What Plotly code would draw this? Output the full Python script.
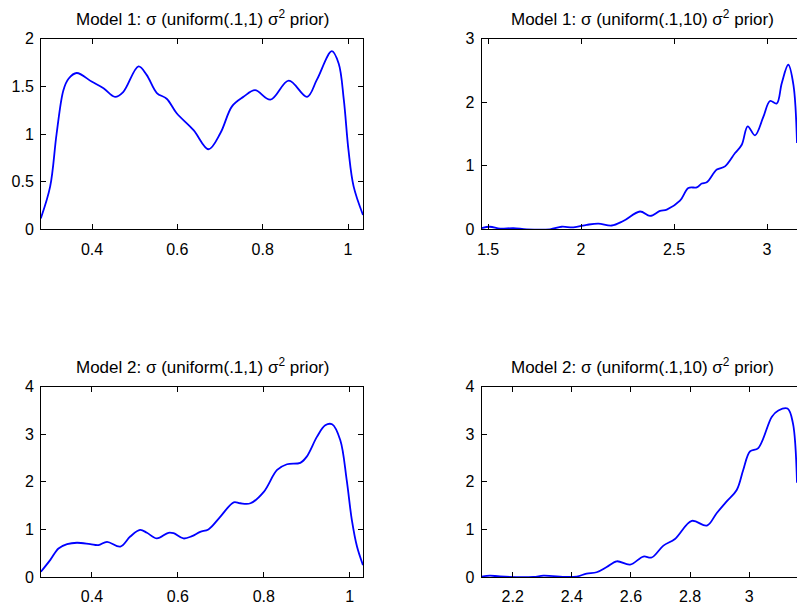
import plotly.graph_objects as go

# ---- Data ----
m1_s1_x = [0.280, 0.302, 0.317, 0.333, 0.345, 0.364, 0.399, 0.427, 0.454, 0.473, 0.509, 0.528,
           0.552, 0.575, 0.598, 0.638, 0.673, 0.701, 0.728, 0.755, 0.782, 0.818, 0.861, 0.904,
           0.927, 0.962, 0.978, 0.990, 1.001, 1.013, 1.035]
m1_s1_y = [0.115, 0.45, 1.00, 1.46, 1.58, 1.64, 1.55, 1.48, 1.39, 1.44, 1.71, 1.62,
           1.43, 1.37, 1.22, 1.04, 0.84, 1.01, 1.29, 1.39, 1.46, 1.36, 1.56, 1.39,
           1.57, 1.87, 1.74, 1.36, 0.83, 0.45, 0.15]

m1_s10_x = [1.466, 1.510, 1.565, 1.636, 1.708, 1.833, 1.896, 1.959, 2.031, 2.093, 2.165, 2.227,
            2.317, 2.371, 2.425, 2.461, 2.532, 2.577, 2.622, 2.649, 2.676, 2.730, 2.774, 2.828,
            2.864, 2.896, 2.935, 2.980, 3.016, 3.052, 3.079, 3.114, 3.142, 3.161]
m1_s10_y = [0.02, 0.04, 0.01, 0.02, 0.00, 0.00, 0.04, 0.03, 0.07, 0.09, 0.06, 0.13,
            0.28, 0.21, 0.29, 0.31, 0.45, 0.65, 0.66, 0.72, 0.74, 0.94, 0.99, 1.20,
            1.33, 1.62, 1.48, 1.77, 2.02, 1.98, 2.30, 2.59, 2.27, 1.36]

m2_s1_x = [0.281, 0.303, 0.322, 0.342, 0.365, 0.396, 0.415, 0.435, 0.466, 0.489, 0.512, 0.528,
           0.551, 0.578, 0.590, 0.613, 0.633, 0.652, 0.671, 0.699, 0.730, 0.745, 0.769, 0.800,
           0.831, 0.854, 0.885, 0.900, 0.924, 0.943, 0.959, 0.978, 0.993, 1.005, 1.017, 1.031]
m2_s1_y = [0.11, 0.36, 0.60, 0.69, 0.72, 0.69, 0.67, 0.74, 0.64, 0.85, 0.99, 0.93,
           0.81, 0.93, 0.92, 0.81, 0.86, 0.95, 1.00, 1.27, 1.57, 1.55, 1.55, 1.79,
           2.25, 2.37, 2.40, 2.53, 2.95, 3.19, 3.21, 2.88, 2.04, 1.20, 0.64, 0.25]

m2_s10_x = [2.095, 2.123, 2.157, 2.270, 2.304, 2.383, 2.417, 2.450, 2.484, 2.518, 2.552, 2.597,
            2.642, 2.670, 2.710, 2.749, 2.806, 2.857, 2.890, 2.924, 2.958, 2.980, 3.003, 3.031,
            3.077, 3.099, 3.130, 3.148, 3.162]
m2_s10_y = [0.01, 0.03, 0.01, 0.00, 0.03, 0.00, 0.01, 0.07, 0.10, 0.21, 0.33, 0.26,
            0.43, 0.41, 0.66, 0.80, 1.18, 1.08, 1.34, 1.59, 1.83, 2.25, 2.64, 2.71,
            3.37, 3.50, 3.54, 3.24, 1.98]

titles = ["Model 1: \u03c3 (uniform(.1,1) \u03c3<sup>2</sup> prior)",
          "Model 1: \u03c3 (uniform(.1,10) \u03c3<sup>2</sup> prior)",
          "Model 2: \u03c3 (uniform(.1,1) \u03c3<sup>2</sup> prior)",
          "Model 2: \u03c3 (uniform(.1,10) \u03c3<sup>2</sup> prior)"]

x_ranges = [[0.2805, 1.035], [1.466, 3.161], [0.2813, 1.031], [2.095, 3.162]]
y_ranges = [[0, 2], [0, 3], [0, 4], [0, 4]]
x_ticks = [[0.4, 0.6, 0.8, 1], [1.5, 2, 2.5, 3], [0.4, 0.6, 0.8, 1], [2.2, 2.4, 2.6, 2.8, 3]]
x_ticktext = [["0.4", "0.6", "0.8", "1"], ["1.5", "2", "2.5", "3"],
              ["0.4", "0.6", "0.8", "1"], ["2.2", "2.4", "2.6", "2.8", "3"]]
y_ticks = [[0, 0.5, 1, 1.5, 2], [0, 1, 2, 3], [0, 1, 2, 3, 4], [0, 1, 2, 3, 4]]
y_ticktext = [["0", "0.5", "1", "1.5", "2"], ["0", "1", "2", "3"],
              ["0", "1", "2", "3", "4"], ["0", "1", "2", "3", "4"]]

W, H = 797, 605
x_doms = [[41 / W, 363 / W], [481.7 / W, 1.0], [41 / W, 363 / W], [481.7 / W, 1.0]]
y_doms = [[(H - 229.3) / H, (H - 38.7) / H], [(H - 229.3) / H, (H - 38.7) / H],
          [(H - 577) / H, (H - 386.7) / H], [(H - 577) / H, (H - 386.7) / H]]

series = [(m1_s1_x, m1_s1_y), (m1_s10_x, m1_s10_y), (m2_s1_x, m2_s1_y), (m2_s10_x, m2_s10_y)]

fig = go.Figure()
font_fam = "Liberation Sans, Arial, Helvetica, sans-serif"
layout = dict(width=W, height=H, margin=dict(l=0, r=0, t=0, b=0, autoexpand=False),
              paper_bgcolor="white", plot_bgcolor="white", showlegend=False,
              font=dict(family=font_fam, size=15, color="black"))
annotations = []
for i, (xs, ys) in enumerate(series):
    n = "" if i == 0 else str(i + 1)
    fig.add_trace(go.Scatter(x=xs, y=ys, mode="lines",
                             line=dict(color="#0000ff", width=1.8, shape="spline", smoothing=1.0),
                             xaxis="x" + n, yaxis="y" + n, hoverinfo="skip"))
    right_side = i in (1, 3)
    layout["xaxis" + n] = dict(domain=x_doms[i], range=x_ranges[i], anchor="y" + n,
                               tickvals=x_ticks[i], ticktext=x_ticktext[i],
                               showline=True, linecolor="black", linewidth=1, mirror="ticks",
                               ticks="inside", ticklen=5, tickcolor="black", tickwidth=1,
                               showgrid=False, zeroline=False, fixedrange=True, automargin=False,
                               ticklabelstandoff=5, tickfont=dict(size=16))
    layout["yaxis" + n] = dict(domain=y_doms[i], range=y_ranges[i], anchor="x" + n,
                               tickvals=y_ticks[i], ticktext=y_ticktext[i],
                               showline=True, linecolor="black", linewidth=1,
                               mirror=False if right_side else "ticks",
                               ticks="inside", ticklen=5, tickcolor="black", tickwidth=1,
                               showgrid=False, zeroline=False, fixedrange=True, automargin=False,
                               ticklabelstandoff=3, tickfont=dict(size=16))
    cx = (x_doms[i][0] * 2 + 322 / W) / 2
    annotations.append(dict(text=titles[i], x=cx, y=y_doms[i][1], xref="paper", yref="paper",
                            xanchor="center", yanchor="bottom", yshift=8, showarrow=False,
                            font=dict(size=17, color="black", family=font_fam)))
layout["annotations"] = annotations
fig.update_layout(**layout)
fig.write_html("out.html", config={"displayModeBar": False},
               post_script="document.body.style.margin='0';document.body.style.overflow='hidden';")
